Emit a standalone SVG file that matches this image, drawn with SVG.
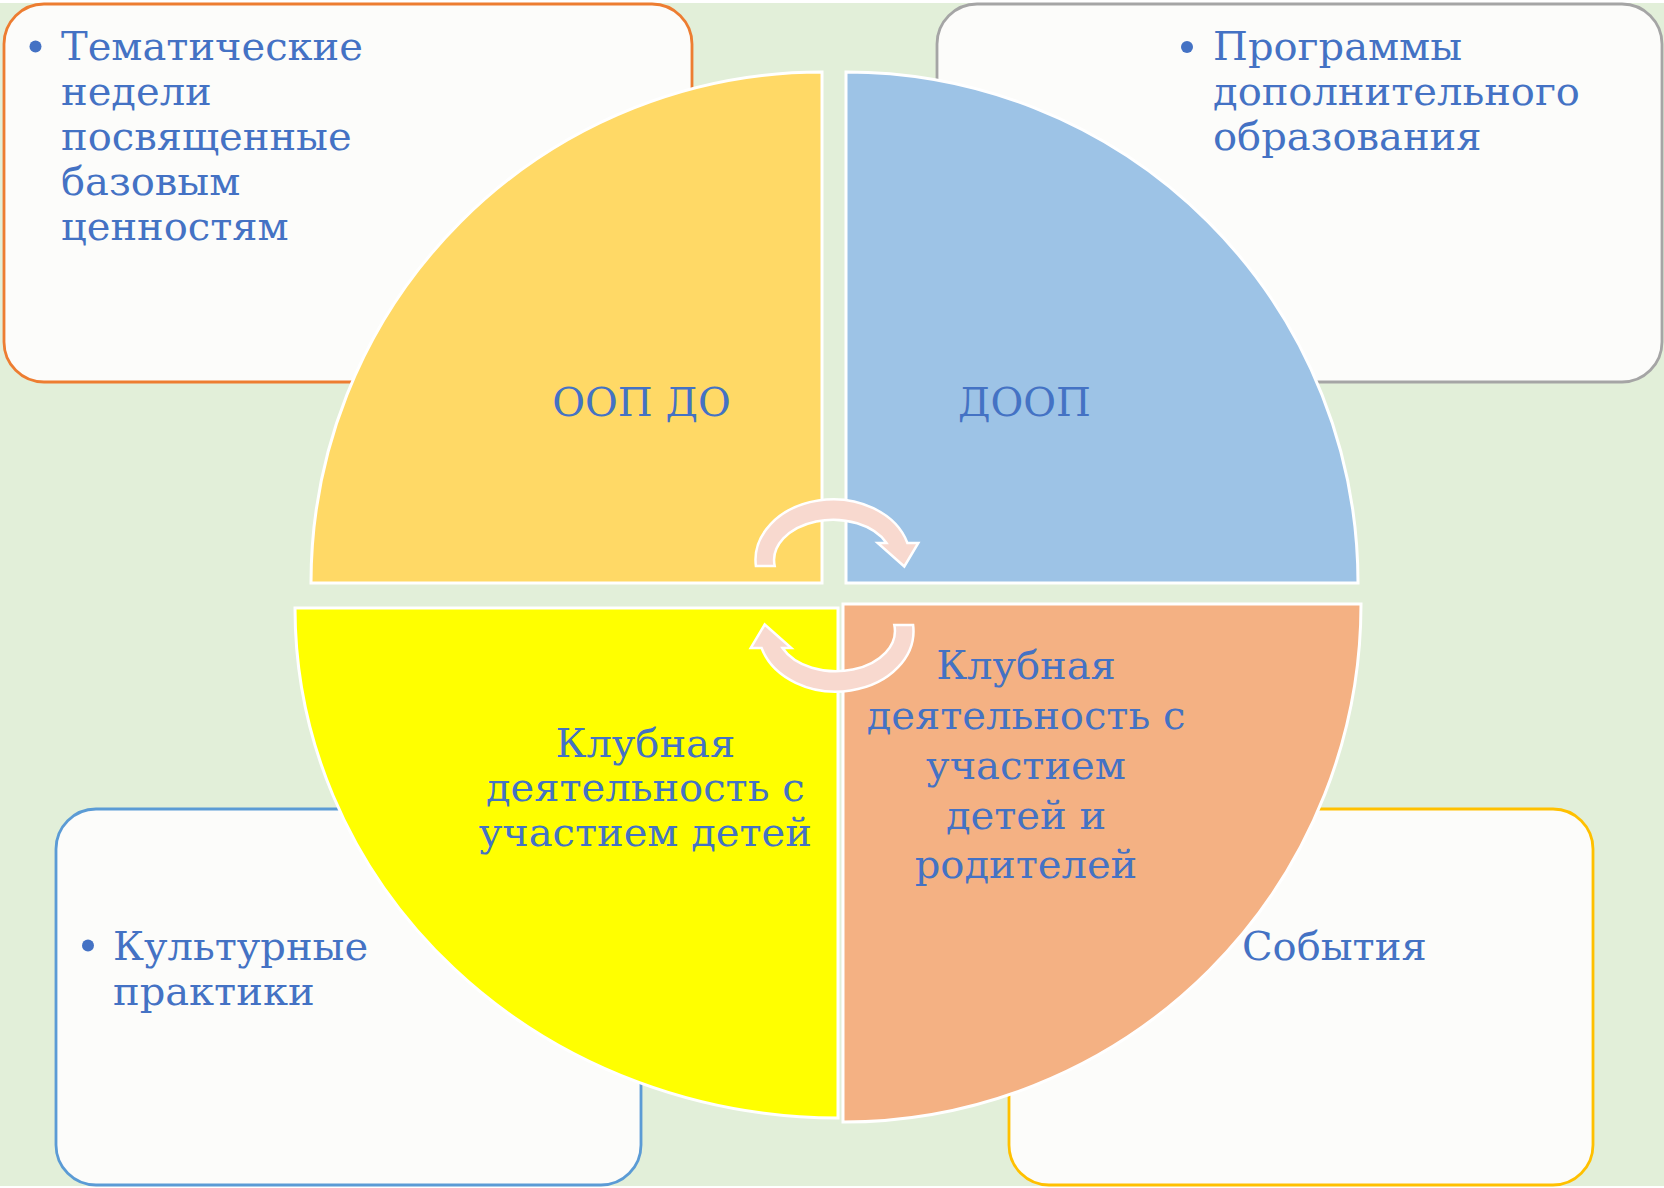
<svg xmlns="http://www.w3.org/2000/svg" width="1664" height="1188" viewBox="0 0 1664 1188">
  <style>
    .box { fill: #FCFCFA; stroke-width: 2.8; }
    .q { stroke: #FFFFFF; stroke-width: 3; }
    .t { font-family: "DejaVu Serif", "Liberation Serif", serif; font-size: 40px; fill: #4472C4; }
    .c { text-anchor: middle; }
    .bullet { fill: #4472C4; }
    .arrow { fill: #F8D9CF; stroke: #FFFFFF; stroke-width: 2.5; stroke-linejoin: miter; }
  </style>
  <defs>
    <path id="cyc" d="M 755.9 566 A 77.5 60.7 0 0 1 907.4 543 L 918.3 543 L 904.3 566.5 L 877.7 543 L 886.5 543 A 59 40.5 0 0 0 774.7 566 Z"/>
  </defs>
  <rect x="0" y="0" width="1664" height="1188" fill="#FFFFFF"/>
  <rect x="0" y="3" width="1664" height="1183" fill="#E2EFD9"/>

  <g id="box-tl">
    <rect class="box" x="4" y="4" width="688" height="378" rx="40" ry="40" stroke="#ED7D31"/>
    <circle class="bullet" cx="35.5" cy="46.5" r="6"/>
    <text class="t" x="61" y="60">Тематические<tspan x="61" dy="45">недели</tspan><tspan x="61" dy="45">посвященные</tspan><tspan x="61" dy="45">базовым</tspan><tspan x="61" dy="45">ценностям</tspan></text>
  </g>
  <g id="box-tr">
    <rect class="box" x="937" y="4" width="725" height="378" rx="40" ry="40" stroke="#A5A5A5"/>
    <circle class="bullet" cx="1187" cy="47" r="6"/>
    <text class="t" x="1213" y="60">Программы<tspan x="1213" dy="45">дополнительного</tspan><tspan x="1213" dy="45">образования</tspan></text>
  </g>
  <g id="box-bl">
    <rect class="box" x="56" y="809" width="585" height="376" rx="40" ry="40" stroke="#5B9BD5"/>
    <circle class="bullet" cx="88" cy="945.5" r="6"/>
    <text class="t" x="113" y="960">Культурные<tspan x="113" dy="45">практики</tspan></text>
  </g>
  <g id="box-br">
    <rect class="box" x="1009" y="809" width="584" height="376" rx="40" ry="40" stroke="#FFC000"/>
    <text class="t" x="1242" y="960">События</text>
  </g>

  <g id="q-tl">
    <path class="q" d="M 822 583 L 311 583 A 511 511 0 0 1 822 72 Z" fill="#FFD966"/>
    <text class="t c" x="641.5" y="415.5">ООП ДО</text>
  </g>
  <g id="q-tr">
    <path class="q" d="M 846 583 L 846 72 A 512 511 0 0 1 1358 583 Z" fill="#9DC3E6"/>
    <text class="t c" x="1024.5" y="415.5">ДООП</text>
  </g>
  <g id="q-bl">
    <path class="q" d="M 838 608 L 295 608 A 543 510 0 0 0 838 1118 Z" fill="#FFFF00"/>
    <text class="t c" x="645.3" y="756.7">Клубная<tspan x="645.3" dy="44.7">деятельность с</tspan><tspan x="645.3" dy="44.7">участием детей</tspan></text>
  </g>
  <g id="q-br">
    <path class="q" d="M 843 604 L 1361 604 A 518 518 0 0 1 843 1122 Z" fill="#F4B183"/>
    <text class="t c" x="1026" y="679.3">Клубная<tspan x="1026" dy="49.75">деятельность с</tspan><tspan x="1026" dy="49.75">участием</tspan><tspan x="1026" dy="49.75">детей и</tspan><tspan x="1026" dy="49.75">родителей</tspan></text>
  </g>

  <g id="connectors">
    <use href="#cyc" class="arrow"/>
    <use href="#cyc" class="arrow" transform="rotate(180 834.5 595.5)"/>
  </g>
</svg>
